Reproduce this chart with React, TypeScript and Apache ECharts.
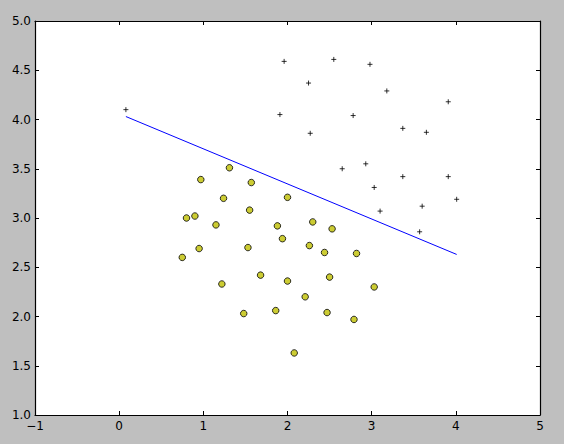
import React, { useEffect, useRef } from "react";
import * as echarts from "echarts";

const plusX = [0.08, 1.96, 2.55, 2.98, 2.25, 3.18, 3.91, 1.91, 2.78, 2.27, 3.37, 3.65, 2.65, 2.93, 3.37, 3.91, 3.03, 4.01, 3.10, 3.60, 3.57];
const plusY = [4.10, 4.59, 4.61, 4.56, 4.37, 4.29, 4.18, 4.05, 4.04, 3.86, 3.91, 3.87, 3.50, 3.55, 3.42, 3.42, 3.31, 3.19, 3.07, 3.12, 2.86];

const circX = [1.31, 0.97, 1.57, 1.24, 2.00, 1.55, 0.80, 0.90, 1.15, 2.30, 2.53, 1.88, 1.94, 2.26, 2.44, 2.82, 1.53, 0.95, 0.75, 1.68, 2.50, 2.00, 1.22, 3.03, 2.21, 1.48, 1.86, 2.47, 2.79, 2.08];
const circY = [3.51, 3.39, 3.36, 3.20, 3.21, 3.08, 3.00, 3.02, 2.93, 2.96, 2.89, 2.92, 2.79, 2.72, 2.65, 2.64, 2.70, 2.69, 2.60, 2.42, 2.40, 2.36, 2.33, 2.30, 2.20, 2.03, 2.06, 2.04, 1.97, 1.63];

const lineX = [0.08, 4.01];
const lineY = [4.03, 2.63];

const xTicks = { min: -1, max: 5, interval: 1 };
const yTicks = { min: 1, max: 5, interval: 0.5 };

export default function App() {
  const ref = useRef<HTMLDivElement>(null);
  useEffect(() => {
    if (!ref.current) return;
    const chart = echarts.init(ref.current, null, { renderer: "svg" });
    const font = { fontFamily: "DejaVu Sans", fontSize: 12, color: "#000" };
    const axisLine = { show: true, onZero: false, lineStyle: { color: "#000", width: 1.2 } };
    const axisTick = { show: true, inside: true, length: 4, lineStyle: { color: "#000", width: 1 } };
    chart.setOption({
      animation: false,
      backgroundColor: "#bfbfbf",
      grid: {
        left: 35,
        right: 24,
        top: 21,
        bottom: 29,
        show: true,
        backgroundColor: "#ffffff",
        borderWidth: 0,
      },
      xAxis: [
        {
          type: "value",
          ...xTicks,
          position: "bottom",
          axisLine,
          axisTick,
          splitLine: { show: false },
          axisLabel: {
            ...font,
            margin: 5,
            formatter: (v: number) => (v < 0 ? "\u2212" + Math.abs(v) : String(v)),
          },
        },
        {
          type: "value",
          ...xTicks,
          position: "top",
          axisLine,
          axisTick,
          splitLine: { show: false },
          axisLabel: { show: false },
        },
      ],
      yAxis: [
        {
          type: "value",
          ...yTicks,
          position: "left",
          axisLine,
          axisTick,
          splitLine: { show: false },
          axisLabel: { ...font, margin: 4, formatter: (v: number) => v.toFixed(1) },
        },
        {
          type: "value",
          ...yTicks,
          position: "right",
          axisLine,
          axisTick,
          splitLine: { show: false },
          axisLabel: { show: false },
        },
      ],
      series: [
        {
          type: "line",
          data: lineX.map((x, i) => [x, lineY[i]]),
          showSymbol: false,
          lineStyle: { color: "#0000ff", width: 1 },
          z: 2,
        },
        {
          type: "scatter",
          data: plusX.map((x, i) => [x, plusY[i]]),
          symbol: "path://M5,0L5,10M0,5L10,5",
          symbolSize: 5,
          itemStyle: { color: "none", borderColor: "#000", borderWidth: 1 },
          z: 3,
        },
        {
          type: "scatter",
          data: circX.map((x, i) => [x, circY[i]]),
          symbol: "circle",
          symbolSize: 6.5,
          itemStyle: { color: "#bfbf00", borderColor: "#000", borderWidth: 1 },
          z: 3,
        },
      ],
    });
    return () => chart.dispose();
  }, []);
  return <div ref={ref} style={{ width: 564, height: 444, position: "absolute", left: 0, top: 0 }} />;
}
